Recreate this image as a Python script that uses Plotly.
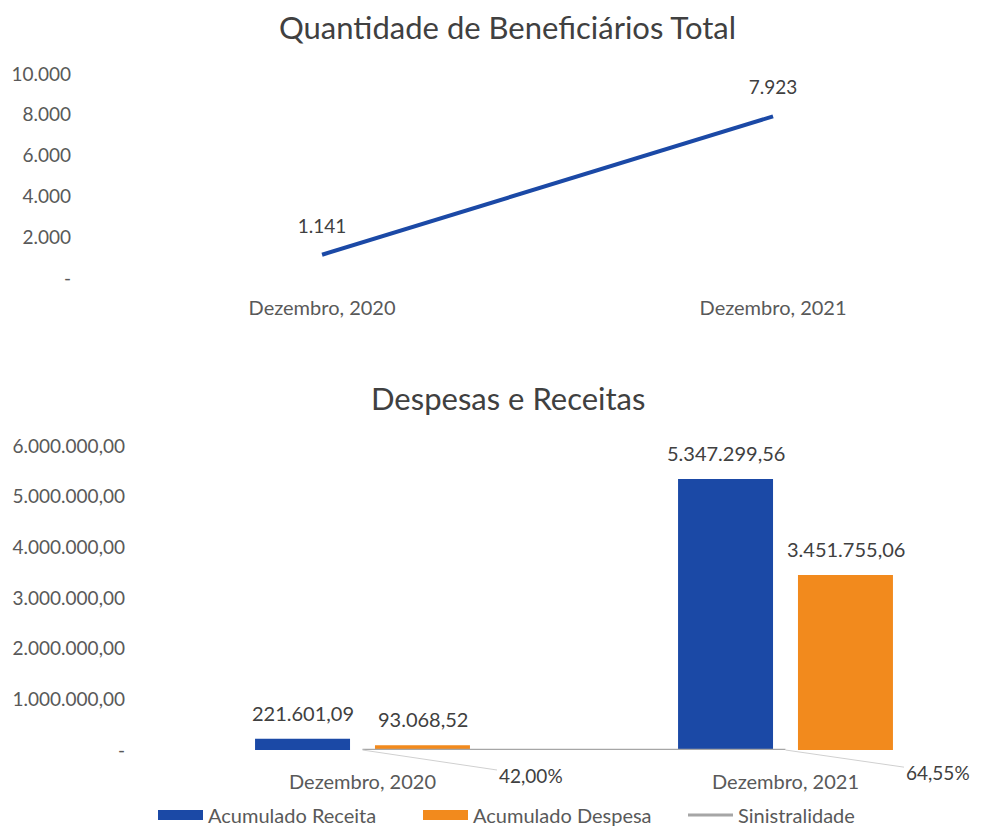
import plotly.graph_objects as go

meses = ["Dezembro, 2020", "Dezembro, 2021"]
beneficiarios = [1141, 7923]
receita = [221601.09, 5347299.56]
despesa = [93068.52, 3451755.06]
sinistralidade = [0.42, 0.6455]

ticks_benef = [0, 2000, 4000, 6000, 8000, 10000]
ticks_valores = [0, 1000000, 2000000, 3000000, 4000000, 5000000, 6000000]

AZUL = "#1b49a6"
LARANJA = "#f28a1d"
CINZA = "#a6a6a6"
TEXTO = "#404040"
FONTE = "Lato"

# a pagina tem 8px de margem no body
OFF = 8
W, H = 986 - 2 * OFF, 838 - 2 * OFF


def px(x):
    return (x - OFF) / W


def py(y):
    return 1 - (y - OFF) / H


def fmt_br(v, casas=0):
    s = f"{v:,.{casas}f}"
    return s.replace(",", "X").replace(".", ",").replace("X", ".")


def rotulos(vals, casas=0):
    return ["-" if v == 0 else fmt_br(v, casas) for v in vals]


fig = go.Figure()

# grafico de cima: beneficiarios
fig.add_trace(go.Scatter(
    x=meses, y=beneficiarios,
    mode="lines+markers+text",
    line=dict(color=AZUL, width=4),
    marker=dict(size=26, opacity=0),
    text=[fmt_br(v) for v in beneficiarios],
    textposition="top center",
    textfont=dict(size=19, color=TEXTO),
    cliponaxis=False,
    showlegend=False,
    xaxis="x", yaxis="y",
))

# grafico de baixo: despesas e receitas
fig.add_trace(go.Bar(
    x=meses, y=receita, name="Acumulado Receita",
    marker_color=AZUL, showlegend=False,
    xaxis="x2", yaxis="y2",
))
fig.add_trace(go.Bar(
    x=meses, y=despesa, name="Acumulado Despesa",
    marker_color=LARANJA, showlegend=False,
    xaxis="x2", yaxis="y2",
))
fig.add_trace(go.Scatter(
    x=meses, y=sinistralidade, name="Sinistralidade",
    mode="lines",
    line=dict(color=CINZA, width=2.5),
    showlegend=False,
    xaxis="x2", yaxis="y2",
))

# legenda com faixas largas como no excel
for nome, cor, larg in [("Acumulado Receita", AZUL, 12),
                        ("Acumulado Despesa", LARANJA, 12),
                        ("Sinistralidade", CINZA, 3)]:
    fig.add_trace(go.Scatter(
        x=[None], y=[None], mode="lines", name=nome,
        line=dict(color=cor, width=larg),
        xaxis="x2", yaxis="y2",
    ))

# rotulos das barras
for serie, desloc in [(receita, -60), (despesa, 60)]:
    for mes, v in zip(meses, serie):
        fig.add_annotation(
            x=mes, y=v, xref="x2", yref="y2",
            text=fmt_br(v, 2), showarrow=False,
            xshift=desloc, yshift=12, yanchor="bottom",
            font=dict(size=20, color=TEXTO),
        )

for mes, p, ax, ay in zip(meses, sinistralidade, [168, 152], [25, 22]):
    fig.add_annotation(
        x=mes, y=p, xref="x2", yref="y2",
        text=fmt_br(p * 100, 2) + "%",
        showarrow=True, arrowhead=0, arrowwidth=1, arrowcolor="#d0d0d0",
        ax=ax, ay=ay,
        font=dict(size=19, color=TEXTO),
    )

fig.add_annotation(
    x=px(508), y=py(27), xref="paper", yref="paper",
    text="Quantidade de Beneficiários Total", showarrow=False,
    yanchor="middle", font=dict(size=31, color=TEXTO),
)
fig.add_annotation(
    x=px(508), y=py(398), xref="paper", yref="paper",
    text="Despesas e Receitas", showarrow=False,
    yanchor="middle", font=dict(size=31, color=TEXTO),
)

eixo_fonte = dict(size=19, color="#595959")
cat_fonte = dict(size=20, color="#595959")

fig.update_layout(
    width=W, height=H,
    template="none",
    font=dict(family=FONTE, color=TEXTO),
    separators=",.",
    paper_bgcolor="white", plot_bgcolor="white",
    margin=dict(l=0, r=0, t=0, b=0, autoexpand=False),
    barmode="group",
    bargap=0.433, bargroupgap=0.208,
    xaxis=dict(
        domain=[px(97), 1.0], anchor="y",
        range=[-0.499, -0.499 + (986 - OFF - 97) / 451],
        showgrid=False, zeroline=False, showline=False, ticks="",
        tickfont=cat_fonte, ticklabelstandoff=16, automargin=False,
    ),
    yaxis=dict(
        domain=[py(278), py(74)], anchor="x",
        range=[0, 10000],
        tickvals=ticks_benef, ticktext=rotulos(ticks_benef),
        showgrid=False, zeroline=False, showline=False, ticks="",
        tickfont=eixo_fonte, ticklabelstandoff=25, automargin=False,
    ),
    xaxis2=dict(
        domain=[px(140), 1.0], anchor="y2",
        range=[-0.526, -0.526 + (986 - OFF - 140) / 423],
        showgrid=False, zeroline=False, showline=False, ticks="",
        tickfont=cat_fonte, ticklabelstandoff=18, automargin=False,
    ),
    yaxis2=dict(
        domain=[py(750), py(446)], anchor="x2",
        range=[0, 6000000],
        tickvals=ticks_valores, ticktext=rotulos(ticks_valores, 2),
        showgrid=False, zeroline=False, showline=False, ticks="",
        tickfont=eixo_fonte, ticklabelstandoff=14, automargin=False,
    ),
    legend=dict(
        orientation="h", x=px(153), xanchor="left",
        y=py(815), yanchor="middle",
        font=dict(size=20, color="#595959"),
        itemwidth=45, entrywidth=205,
    ),
)

fig.write_html("out.html")
